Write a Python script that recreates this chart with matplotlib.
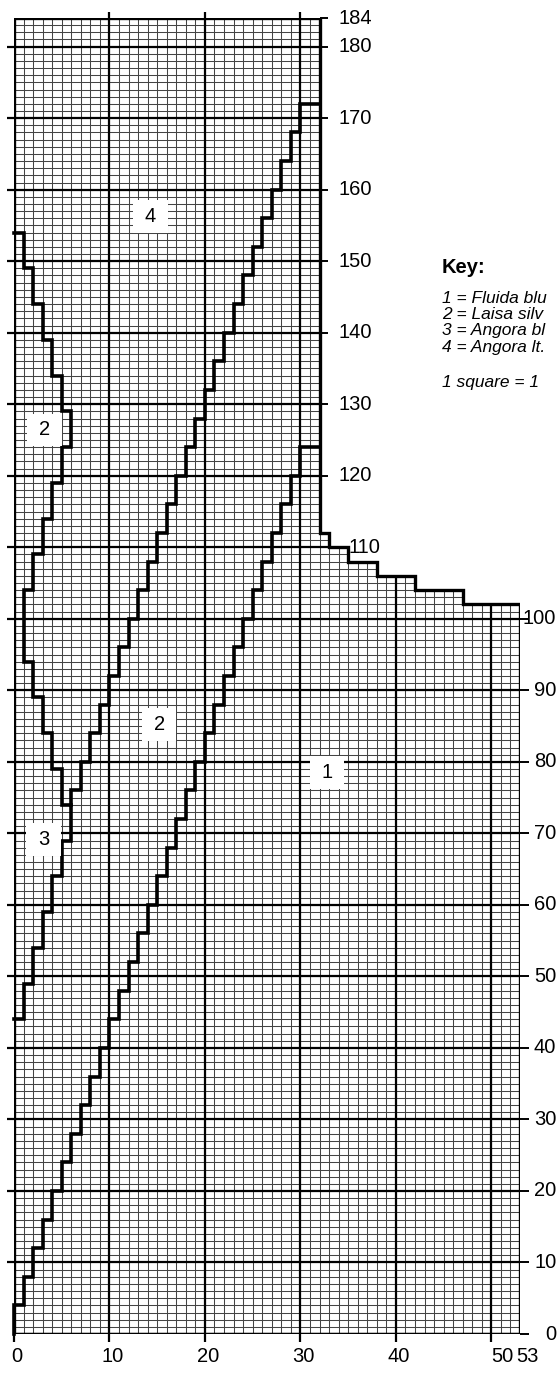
import matplotlib.pyplot as plt
from matplotlib.patches import Polygon, Rectangle

# outline of the piece: row where each width begins, and the width from that row up
shape_rows = [0, 102, 104, 106, 108, 110, 112, 184]
shape_widths = [53, 47, 42, 38, 35, 33, 32]

# colour change lines, corner points (stitch, row)
lineA_st = [0, 1, 2, 3, 4, 5, 6, 7, 8, 9, 10, 11, 12, 13, 14, 15, 16, 17, 18, 19, 20,
            21, 22, 23, 24, 25, 26, 27, 28, 29, 30, 32]
lineA_row = [0, 4, 8, 12, 16, 20, 24, 28, 32, 36, 40, 44, 48, 52, 56, 60, 64, 68, 72, 76, 80,
             84, 88, 92, 96, 100, 104, 108, 112, 116, 120, 124]
lineB_st = [6, 7, 8, 9, 10, 11, 12, 13, 14, 15, 16, 17, 18, 19, 20, 21, 22, 23, 24, 25, 26,
            27, 28, 29, 30, 32]
lineB_row = [74, 76, 80, 84, 88, 92, 96, 100, 104, 108, 112, 116, 120, 124, 128, 132, 136, 140,
             144, 148, 152, 156, 160, 164, 168, 172]
lineC_st = [0, 1, 2, 3, 4, 5, 6, 5, 4, 3, 2, 1, 2, 3, 4, 5, 6, 5, 4, 3, 2, 1, 0]
lineC_row = [154, 149, 144, 139, 134, 129, 124, 119, 114, 109, 104, 94, 89, 84, 79, 74, 69,
             64, 59, 54, 49, 44, 44]

# yarn area labels
area_names = ['4', '2', '2', '3', '1']
area_st = [14.3, 3.2, 15.2, 3.1, 32.8]
area_row = [156.2, 126.4, 85.2, 69.2, 78.5]

# row numbers at the right hand edge
row_ticks = [0, 10, 20, 30, 40, 50, 60, 70, 80, 90, 100, 110, 120, 130, 140, 150, 160, 170, 180, 184]
stitch_ticks = [0, 10, 20, 30, 40]

# key text, as far as it shows on the page
key_lines = ['1 = Fluida blu', '2 = Laisa silv', '3 = Angora bl', '4 = Angora lt.']
key_note = '1 square = 1'

num_font = ['Liberation Sans', 'DejaVu Sans']

fig = plt.figure(figsize=(5.59, 13.73), dpi=100)
ax = fig.add_axes([14 / 559, 39 / 1373, (520 - 14) / 559, (1334 - 18) / 1373])
ax.set_xlim(0, 53)
ax.set_ylim(0, 184)
ax.axis('off')

# polygon of the piece
verts = [(0, 0)]
for r0, r1, w in zip(shape_rows[:-1], shape_rows[1:], shape_widths):
    verts += [(w, r0), (w, r1)]
verts.append((0, shape_rows[-1]))
outline = Polygon(verts, closed=True, fill=False, edgecolor='black', lw=2.4, zorder=5)
ax.add_patch(outline)

def width_at(row):
    for r0, r1, w in zip(shape_rows[:-1], shape_rows[1:], shape_widths):
        if r0 <= row < r1:
            return w
    return shape_widths[-1]

# small squares
fine_v = ax.vlines(range(0, 54), 0, 184, color='#444444', lw=0.75, zorder=1)
fine_h = ax.hlines(range(0, 185), 0, 53, color='#444444', lw=0.75, zorder=1)
# every tenth line heavier
big_v = ax.vlines(range(0, 54, 10), 0, 184, color='black', lw=1.6, zorder=2)
big_h = ax.hlines(range(0, 185, 10), 0, 53, color='black', lw=1.6, zorder=2)
for c in (fine_v, fine_h, big_v, big_h):
    c.set_clip_path(outline)

# short ticks outside the piece
ax.vlines(stitch_ticks + [50], -1.1, 0, color='black', lw=1.6, clip_on=False)
ax.vlines([10, 20, 30], 184, 184.9, color='black', lw=1.6, clip_on=False)
ax.hlines(range(10, 184, 10), -0.7, 0, color='black', lw=1.6, clip_on=False)
for r in row_ticks:
    w = width_at(r)
    ax.hlines(r, w, w + 0.9, color='black', lw=1.4, clip_on=False)
    if r <= 100:
        ax.text(56.8, r, str(r), ha='right', va='center', fontsize=14.5, family=num_font)
    else:
        ax.text(w + 2.0, r, str(r), ha='left', va='center', fontsize=14.5, family=num_font)

# stitch numbers along the bottom
for s in stitch_ticks:
    ax.text(s + 0.3, -3.2, str(s), ha='center', va='center', fontsize=14.5, family=num_font)
ax.text(50.0, -3.2, '50', ha='left', va='center', fontsize=14.5, family=num_font)
ax.text(52.6, -3.2, '53', ha='left', va='center', fontsize=14.5, family=num_font)

# colour change lines
for xs, ys, style in [(lineA_st, lineA_row, 'steps-pre'),
                      (lineB_st, lineB_row, 'steps-pre'),
                      (lineC_st, lineC_row, 'steps-post')]:
    ax.plot(xs, ys, color='black', lw=2.6, drawstyle=style, zorder=6,
            solid_joinstyle='miter', clip_on=False)

# area labels in white boxes
for name, s, r in zip(area_names, area_st, area_row):
    ax.add_patch(Rectangle((s - 1.8, r - 2.3), 3.6, 4.6, facecolor='white',
                           edgecolor='none', zorder=7))
    ax.text(s, r, name, ha='center', va='center', fontsize=14.5, family=num_font, zorder=8)

# key
ax.text(44.8, 149.1, 'Key:', fontsize=14.5, fontweight='bold', ha='left', va='center',
        family=num_font)
for i, line in enumerate(key_lines):
    ax.text(44.8, 144.8 - i * 2.28, line, fontsize=12.5, style='italic', ha='left',
            va='center', family=num_font)
ax.text(44.8, 133.0, key_note, fontsize=12.5, style='italic', ha='left',
        va='center', family=num_font)

fig.savefig('out.png', dpi=100)
